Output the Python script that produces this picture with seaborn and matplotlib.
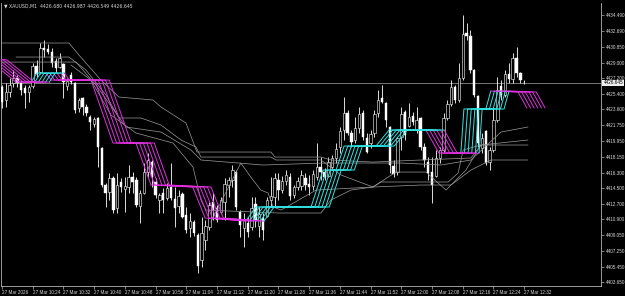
import matplotlib
matplotlib.use("Agg")
import matplotlib.pyplot as plt
import matplotlib.transforms as mtransforms
import seaborn as sns
import numpy as np

sns.set_theme(style="dark")
plt.rcParams["font.family"] = ["Liberation Sans", "DejaVu Sans"]

# ---------------- data ----------------
symbol_title = "\u25bc XAUUSD,M1  4426.680 4426.987 4426.549 4426.645"
last_price = 4426.645

opens = [4426.18, 4424.68, 4425.60, 4426.64, 4427.22, 4426.64, 4426.06, 4425.60, 4426.29, 4428.60,
         4427.91, 4430.68, 4430.56, 4430.22, 4429.18, 4428.49, 4428.83, 4426.29, 4427.56, 4426.64,
         4423.75, 4424.91, 4423.87, 4422.71, 4421.90, 4422.60, 4419.13, 4414.86, 4414.05, 4415.67,
         4412.20, 4415.21, 4414.40, 4414.63, 4415.78, 4415.44, 4412.44, 4413.94, 4416.36, 4417.51,
         4415.21, 4413.13, 4413.94, 4413.36, 4414.63, 4413.24, 4412.44, 4413.82, 4411.40, 4409.90,
         4410.59, 4409.09, 4406.20, 4408.51, 4410.01, 4412.90, 4412.20, 4411.74, 4412.90, 4414.86,
         4415.44, 4416.36, 4411.74, 4409.90, 4410.47, 4410.01, 4412.67, 4410.13, 4411.05, 4411.28,
         4413.13, 4413.47, 4415.44, 4414.28, 4415.32, 4415.78, 4413.71, 4414.63, 4414.74, 4415.67,
         4414.98, 4414.74, 4415.78, 4416.94, 4416.36, 4415.90, 4416.94, 4417.98, 4419.25, 4421.21,
         4423.17, 4420.87, 4420.06, 4421.44, 4423.17, 4420.29, 4419.71, 4420.87, 4423.17, 4424.91,
         4424.33, 4421.56, 4417.05, 4416.36, 4420.40, 4423.29, 4421.67, 4422.83, 4421.21, 4422.60,
         4419.25, 4417.51, 4416.36, 4415.90, 4417.98, 4418.90, 4422.60, 4424.21, 4426.18, 4424.68,
         4427.22, 4432.41, 4432.07, 4428.14, 4425.14, 4419.13, 4421.09, 4417.51, 4418.90, 4422.36,
         4426.29, 4425.25, 4427.68, 4427.10, 4429.52, 4427.79, 4426.680]
highs = [4426.41, 4426.64, 4427.22, 4428.14, 4427.56, 4426.98, 4426.41, 4426.41, 4428.95, 4429.29,
         4431.26, 4431.60, 4431.14, 4430.68, 4429.52, 4430.10, 4428.95, 4427.22, 4427.91, 4426.75,
         4424.91, 4425.02, 4424.21, 4422.94, 4422.71, 4422.71, 4419.25, 4415.09, 4416.25, 4415.90,
         4416.25, 4415.67, 4415.78, 4417.17, 4416.36, 4415.78, 4414.28, 4417.40, 4418.55, 4417.75,
         4415.67, 4413.94, 4414.51, 4415.09, 4417.40, 4414.63, 4414.28, 4414.05, 4412.32, 4411.63,
         4410.82, 4409.32, 4411.17, 4410.82, 4412.90, 4413.94, 4412.55, 4413.47, 4415.67, 4415.78,
         4417.17, 4416.59, 4411.97, 4411.63, 4411.17, 4413.47, 4413.47, 4412.32, 4411.63, 4413.47,
         4415.78, 4416.25, 4416.25, 4415.90, 4416.59, 4416.25, 4414.86, 4415.78, 4416.59, 4416.25,
         4416.02, 4416.59, 4419.71, 4418.09, 4416.82, 4418.09, 4418.32, 4419.71, 4421.56, 4425.02,
         4423.52, 4421.21, 4422.71, 4423.87, 4423.52, 4420.87, 4421.21, 4423.52, 4425.83, 4426.41,
         4424.44, 4421.67, 4417.75, 4420.40, 4423.87, 4423.52, 4424.33, 4423.29, 4423.87, 4422.71,
         4419.71, 4418.09, 4418.09, 4418.90, 4419.25, 4423.17, 4424.68, 4426.98, 4426.41, 4428.95,
         4434.49, 4433.57, 4432.76, 4428.25, 4425.25, 4420.87, 4421.21, 4419.25, 4423.87, 4427.33,
         4426.98, 4428.14, 4428.95, 4430.10, 4430.80, 4427.91, 4426.987]
lows = [4423.75, 4423.87, 4425.02, 4426.18, 4426.18, 4425.25, 4423.75, 4424.44, 4426.06, 4427.33,
        4427.68, 4429.64, 4429.99, 4428.49, 4427.91, 4428.37, 4424.91, 4425.83, 4426.52, 4423.17,
        4423.29, 4422.94, 4422.83, 4421.21, 4421.56, 4416.94, 4414.63, 4412.32, 4413.13, 4411.63,
        4411.63, 4414.05, 4411.74, 4413.94, 4413.94, 4412.32, 4410.47, 4413.82, 4415.78, 4414.63,
        4413.36, 4411.63, 4411.63, 4413.13, 4413.13, 4410.01, 4411.63, 4411.05, 4409.32, 4408.86,
        4408.97, 4404.70, 4405.39, 4407.35, 4409.66, 4410.82, 4410.59, 4411.51, 4410.82, 4413.47,
        4414.63, 4411.97, 4408.86, 4407.70, 4408.86, 4409.66, 4410.01, 4408.86, 4408.51, 4411.17,
        4412.32, 4412.32, 4413.13, 4413.94, 4414.86, 4413.13, 4413.36, 4414.28, 4414.28, 4414.28,
        4413.71, 4414.28, 4415.44, 4415.44, 4415.44, 4415.78, 4416.59, 4417.40, 4418.55, 4420.06,
        4420.63, 4419.25, 4419.71, 4420.87, 4420.06, 4418.55, 4419.13, 4420.40, 4422.71, 4424.33,
        4421.56, 4416.25, 4415.78, 4416.02, 4418.90, 4420.06, 4421.56, 4421.79, 4420.87, 4418.90,
        4416.94, 4415.44, 4412.78, 4415.78, 4417.40, 4418.67, 4422.36, 4423.98, 4424.33, 4424.44,
        4426.98, 4431.60, 4427.79, 4425.02, 4419.25, 4418.55, 4417.17, 4416.59, 4418.67, 4422.13,
        4424.68, 4425.02, 4426.64, 4426.64, 4427.33, 4426.64, 4426.549]
closes = [4424.44, 4425.60, 4426.41, 4427.22, 4426.64, 4425.83, 4425.48, 4426.18, 4428.60, 4427.68,
          4430.68, 4430.45, 4430.22, 4428.95, 4428.37, 4429.52, 4426.75, 4426.87, 4426.75, 4423.52,
          4424.68, 4423.87, 4423.17, 4422.13, 4422.48, 4419.25, 4414.86, 4413.94, 4415.67, 4411.97,
          4414.86, 4414.63, 4414.74, 4415.78, 4415.21, 4412.55, 4413.94, 4416.36, 4417.75, 4415.78,
          4413.71, 4413.71, 4413.13, 4414.51, 4413.36, 4412.20, 4413.59, 4411.17, 4409.66, 4410.70,
          4409.32, 4405.51, 4409.32, 4410.13, 4412.55, 4411.97, 4410.82, 4413.13, 4414.98, 4415.44,
          4416.59, 4412.32, 4410.24, 4410.82, 4409.43, 4412.20, 4410.82, 4411.51, 4409.66, 4413.13,
          4413.59, 4415.67, 4414.28, 4415.32, 4416.02, 4413.59, 4414.63, 4415.32, 4416.02, 4414.86,
          4414.63, 4416.13, 4416.94, 4416.36, 4415.78, 4417.51, 4417.98, 4419.02, 4421.09, 4423.17,
          4420.87, 4419.82, 4421.44, 4423.06, 4420.40, 4418.67, 4420.75, 4423.06, 4424.68, 4424.44,
          4422.36, 4417.17, 4416.13, 4420.29, 4423.06, 4420.63, 4422.71, 4422.13, 4422.36, 4419.25,
          4417.75, 4416.25, 4414.86, 4417.98, 4418.90, 4422.60, 4424.21, 4426.18, 4424.68, 4427.22,
          4432.30, 4432.07, 4428.14, 4425.25, 4419.71, 4420.29, 4417.40, 4418.90, 4422.36, 4425.83,
          4425.25, 4427.68, 4427.10, 4429.52, 4427.79, 4426.98, 4426.645]

# lead line of the shifted ribbon (bar index, price)
ribbon_bar = [-5.5, -3.4, 3.6, 7.6, 9.1, 11.5, 12.8, 23.2, 28.9, 34.9, 38.8, 49.7, 52.9, 63.5, 66.1,
              80.5, 83.6, 87.0, 89.1, 97.4, 100.8, 110.4, 113.8, 119.5, 120.3, 126.0, 127.3, 134.4, 136.7]
ribbon_price = [4429.41, 4429.29, 4426.75, 4426.75, 4427.79, 4427.79, 4426.98, 4426.98, 4419.71, 4419.71,
                4414.86, 4414.63, 4411.05, 4410.70, 4412.32, 4412.32, 4416.59, 4416.59, 4419.36, 4419.36,
                4421.21, 4421.21, 4418.55, 4418.55, 4423.64, 4423.64, 4425.71, 4425.60, 4423.75]
ribbon_shifts = [0, 0.95, 1.9, 2.85, 3.8, 4.75]

grey_a_bar = [-0.26, 17.45, 20.05, 25.78, 30.47, 39.32, 41.41, 47.92, 50.78, 70.05, 71.09, 83.07, 85.68,
              96.61, 109.11, 122.14, 124.74, 136.98]
grey_a_price = [4431.26, 4431.26, 4429.87, 4426.98, 4425.02, 4424.68, 4423.87, 4422.02, 4418.67, 4418.67,
                4418.09, 4418.09, 4417.75, 4417.51, 4417.75, 4417.98, 4419.48, 4419.48]
grey_b_bar = [3.65, 17.45, 21.88, 27.08, 30.47, 36.20, 41.41, 46.61, 50.52, 51.82, 70.05, 71.35, 83.07,
              88.28, 96.61, 109.11, 116.93, 122.14, 127.34, 136.98]
grey_b_price = [4429.64, 4429.64, 4428.14, 4425.25, 4422.60, 4422.60, 4421.79, 4420.06, 4419.25, 4418.09,
                4418.09, 4417.75, 4417.75, 4416.02, 4414.63, 4414.86, 4414.86, 4416.59, 4417.75, 4417.75]
grey_c_bar = [-0.26, 10.16, 19.27, 24.48, 32.29, 41.41, 49.22, 51.82, 67.97, 83.85, 103.91, 114.32,
              122.14, 129.95, 136.98]
grey_c_price = [4429.06, 4429.06, 4429.06, 4426.41, 4421.56, 4420.98, 4418.90, 4417.75, 4417.17, 4417.40,
                4417.40, 4417.17, 4417.75, 4420.98, 4421.56]
grey_d_bar = [17.97, 23.18, 28.39, 34.90, 44.53, 49.74, 51.82, 53.13, 71.88, 83.07, 85.68, 90.89, 96.61,
              102.60, 110.42, 115.63, 120.83, 124.74, 136.98]
grey_d_price = [4428.72, 4426.98, 4422.94, 4420.87, 4419.71, 4416.94, 4413.13, 4411.97, 4411.63, 4411.63,
                4413.13, 4414.28, 4414.63, 4416.36, 4416.36, 4414.28, 4416.59, 4419.48, 4420.06]
grey_e_bar = [54.4, 62.2, 64.8, 67.4, 69.3, 70.6, 72.7, 81.8, 96.6, 98.7, 116.2, 118.8, 120.1, 124.7]
grey_e_price = [4410.59, 4417.40, 4415.78, 4414.28, 4413.94, 4412.32, 4411.97, 4414.28, 4414.63,
                4415.21, 4415.21, 4416.25, 4418.90, 4419.48]

price_ticks = [4434.490, 4432.690, 4430.850, 4429.000, 4427.200, 4425.400, 4423.600, 4421.750,
               4419.950, 4418.150, 4416.300, 4414.500, 4412.700, 4410.900, 4409.050, 4407.250,
               4405.450, 4403.650]
time_tick_bars = [0, 8, 16, 24, 32, 40, 48, 56, 64, 72, 80, 88, 96, 104, 112, 120, 128, 136]
time_tick_labels = ["27 Mar 2026", "27 Mar 10:24", "27 Mar 10:32", "27 Mar 10:40", "27 Mar 10:48",
                    "27 Mar 10:56", "27 Mar 11:04", "27 Mar 11:12", "27 Mar 11:20", "27 Mar 11:28",
                    "27 Mar 11:36", "27 Mar 11:44", "27 Mar 11:52", "27 Mar 12:00", "27 Mar 12:08",
                    "27 Mar 12:16", "27 Mar 12:24", "27 Mar 12:32"]

# ---------------- style ----------------
MAG = "#e030e0"
CYAN = "#30e4e4"
GREY = "#9a9a9a"
FRAME = "#b4b4b4"
TXT = "#d8d8d8"
FS = 3.3

fig = plt.figure(figsize=(6.25, 2.96), dpi=100, facecolor="black")
ax = fig.add_axes([1 / 625, 10 / 296, 600 / 625, 283 / 296])
ax.set_facecolor("black")
ax.grid(False)

# current price line
ax.axhline(last_price, color="#8a8a8a", lw=0.6, zorder=1)

# candles
o, h, l, c = (np.array(v) for v in (opens, highs, lows, closes))
idx = np.arange(len(o))
ax.vlines(idx, l, h, color="white", lw=0.6, zorder=3)
bull = c >= o
bot = np.minimum(o, c)
bh = np.maximum(np.abs(c - o), 0.04)
ax.bar(idx[~bull], bh[~bull], bottom=bot[~bull], width=0.62, color="white",
       edgecolor="white", lw=0.3, zorder=4)
ax.bar(idx[bull], bh[bull], bottom=bot[bull], width=0.62, color="black",
       edgecolor="white", lw=0.4, zorder=4)

# grey lines
for gx, gy in ((grey_a_bar, grey_a_price), (grey_b_bar, grey_b_price),
               (grey_c_bar, grey_c_price), (grey_d_bar, grey_d_price),
               (grey_e_bar, grey_e_price)):
    sns.lineplot(x=gx, y=gy, ax=ax, color=GREY, lw=0.5, sort=False, estimator=None, zorder=5)

# ribbon
rx = np.array(ribbon_bar)
ry = np.array(ribbon_price)
for k in ribbon_shifts:
    xs = rx + k
    last = -1
    runs = []
    for j in range(len(xs) - 1):
        dy = ry[j + 1] - ry[j]
        if dy > 1e-9:
            last = 1
        elif dy < -1e-9:
            last = -1
        col = CYAN if last > 0 else MAG
        if runs and runs[-1][0] == col:
            runs[-1][1].append(j + 1)
        else:
            runs.append([col, [j, j + 1]])
    for col, ids in runs:
        sns.lineplot(x=xs[ids], y=ry[ids], ax=ax, color=col, lw=0.7, sort=False,
                     estimator=None, zorder=6)

ax.set_xlim(-0.25, 156.0)
ax.set_ylim(4403.20, 4435.88)

for s in ("left", "right", "bottom"):
    ax.spines[s].set_color(FRAME)
    ax.spines[s].set_linewidth(0.6)
    ax.spines[s].set_visible(True)
ax.spines["top"].set_visible(False)

ax.yaxis.tick_right()
ax.set_yticks(price_ticks)
ax.set_yticklabels([f"{v:.3f}" for v in price_ticks])
ax.tick_params(axis="y", which="both", right=True, left=False, length=2, width=0.5,
               color=FRAME, labelcolor=TXT, labelsize=FS, pad=1.5, direction="out")
ax.set_xticks(time_tick_bars)
ax.set_xticklabels(time_tick_labels)
for lab in ax.get_xticklabels():
    lab.set_horizontalalignment("left")
ax.tick_params(axis="x", which="both", bottom=True, length=2, width=0.5, color=FRAME,
               labelcolor=TXT, labelsize=FS, pad=0.8, direction="out")
ax.set_xlabel("")
ax.set_ylabel("")

# current price tag
trans = mtransforms.blended_transform_factory(ax.transAxes, ax.transData)
ax.text(1.004, last_price, f"{last_price:.3f}", transform=trans, fontsize=FS, color="black",
        va="center", ha="left", clip_on=False, zorder=10,
        bbox=dict(boxstyle="square,pad=0.2", fc="#eeeeee", ec="none"))

fig.text(4 / 625, 1 - 6 / 296, symbol_title, fontsize=FS, color=TXT, va="center", ha="left",
         family=["DejaVu Sans"])

fig.savefig("out.png", dpi=100, facecolor="black")
